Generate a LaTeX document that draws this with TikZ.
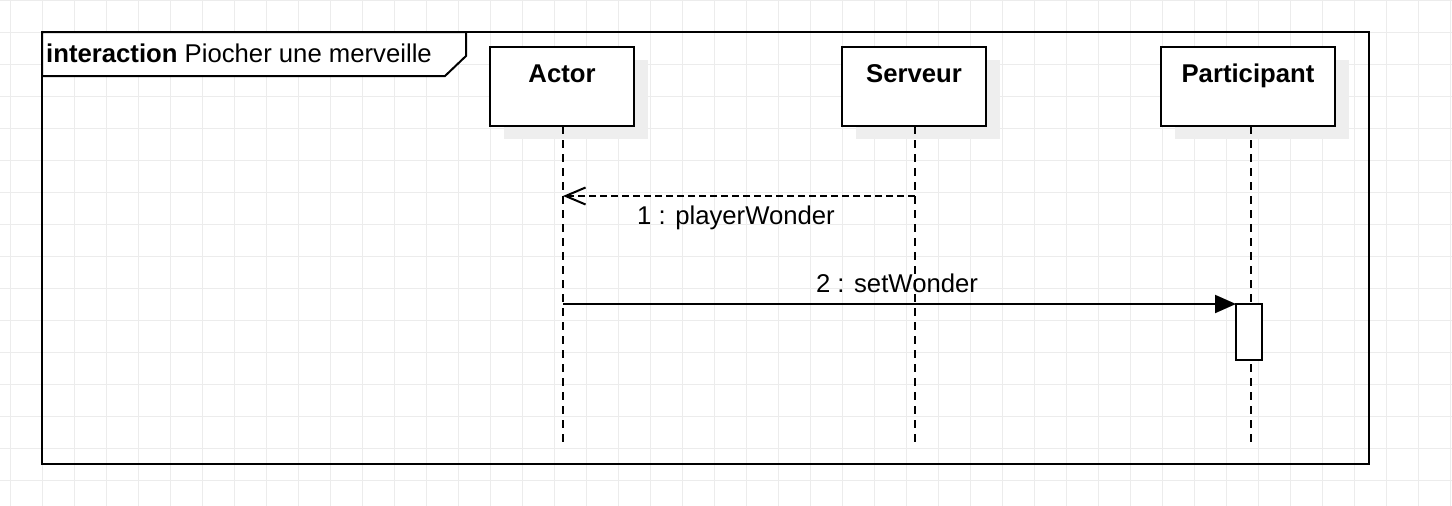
\documentclass[tikz,border=0pt]{standalone}
\usepackage{fontspec}
\setmainfont{Liberation Sans}
\usetikzlibrary{arrows.meta,shadows}
\definecolor{gridc}{RGB}{236,236,236}
\definecolor{shadowc}{RGB}{238,238,238}
\begin{document}
\begin{tikzpicture}[x=1pt,y=-1pt,
  font=\fontsize{25.7}{30}\selectfont,
  gridline/.style={gridc, line width=1pt},
  framestyle/.style={line width=2pt},
  lifebox/.style={draw, line width=2pt, fill=white, inner sep=0pt,
    minimum height=79pt,
    drop shadow={shadow xshift=14pt, shadow yshift=-13pt, fill=shadowc, opacity=1}},
  lifeline/.style={line width=2pt, dash pattern=on 8pt off 6pt},
  actbox/.style={draw, line width=2pt, fill=white, inner sep=0pt, outer sep=0pt, minimum width=26pt, minimum height=56pt},
  retmsg/.style={line width=2pt, dash pattern=on 7pt off 4pt, -{Straight Barb[length=20pt,width=17pt,line width=2pt]}},
  callmsg/.style={line width=2pt, -{Triangle[length=21pt,width=18pt]}},
  txt/.style={inner sep=0pt, anchor=base}
]
\useasboundingbox (0,0) rectangle (1452,506);
\fill[white] (0,0) rectangle (1452,506);
% grid
\foreach \x in {10,42,...,1450} \draw[gridline] (\x,0) -- (\x,506);
\foreach \y in {0.5,32.5,...,500} \draw[gridline] (0,\y) -- (1452,\y);
% frame
\draw[framestyle] (42,32) rectangle (1369,464);
\draw[framestyle, fill=white] (42,32) -- (466,32) -- (466,56) -- (445,76) -- (42,76) -- cycle;
\node[inner sep=0pt, anchor=base west] (title) at (46,62) {\textbf{interaction} Piocher une merveille};
% lifeline boxes
\node[lifebox, minimum width=144pt] (actor) at (562,86.5) {};
\node[lifebox, minimum width=144pt] (serveur) at (914,86.5) {};
\node[lifebox, minimum width=174pt] (part) at (1248,86.5) {};
\node[txt] (actorL) at (562,82) {\textbf{Actor}};
\node[txt] (serveurL) at (914,82) {\textbf{Serveur}};
\node[txt] (partL) at (1248,82) {\textbf{Participant}};
% lifelines
\coordinate (aTop) at (563,126);
\coordinate (aBot) at (563,445);
\coordinate (sTop) at (915,126);
\coordinate (sBot) at (915,445);
\coordinate (pTop) at (1251,126);
\coordinate (pBot) at (1251,445);
\draw[lifeline] (aTop) -- (aBot);
\draw[lifeline] (sTop) -- (sBot);
\draw[lifeline] (pTop) -- (pBot);
% activation
\node[actbox] (act) at (1249,332) {};
% messages
\coordinate (m1s) at (915,196);
\coordinate (m1e) at (563,196);
\coordinate (m2s) at (563,304);
\draw[retmsg] (m1s) -- (m1e);
\draw[callmsg] (m2s) -- (act.north west);
\node[txt] (m1L) at (736,224) {1 : playerWonder};
\node[txt] (m2L) at (897,292) {2 : setWonder};
\end{tikzpicture}
\end{document}
